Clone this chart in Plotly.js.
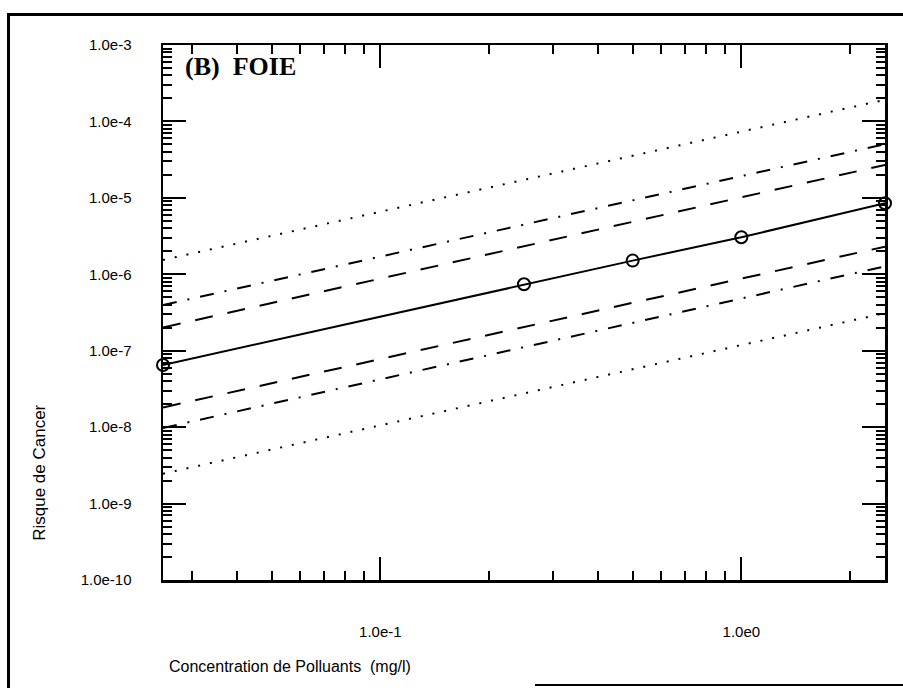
<!DOCTYPE html>
<html>
<head>
<meta charset="utf-8">
<script src="https://cdn.plot.ly/plotly-3.0.1.min.js"></script>
<style>
  html, body { margin: 0; padding: 0; background: #fff; }
  #wrap { position: relative; width: 903px; height: 688px; overflow: hidden; }
  #chart { position: absolute; left: 0; top: 0; width: 903px; height: 688px; }
  .frame { position: absolute; background: #000; }
</style>
</head>
<body>
<div id="wrap">
  <div id="chart"></div>
  <div class="frame" style="left:7px; top:13px; width:896px; height:3px;"></div>
  <div class="frame" style="left:7px; top:13px; width:3px; height:675px;"></div>
  <div class="frame" style="left:535px; top:684px; width:368px; height:2px;"></div>
</div>
<script>
// Concentration (mg/l) at the line ends and at the observed points
const xEnds = [0.025, 2.5];
const xPoints = [0.025, 0.25, 0.5, 1.0, 2.5];

// Central estimate (solid line with open circles)
const riskCentral = [6.5e-8, 7.4e-7, 1.51e-6, 3.05e-6, 8.5e-6];

// Bounds (values at x = 0.025 and x = 2.5)
const upperDotted  = [1.54e-6, 1.92e-4];
const upperDashDot = [3.96e-7, 5.05e-5];
const upperDashed  = [2.01e-7, 2.69e-5];
const lowerDashed  = [1.81e-8, 2.30e-6];
const lowerDashDot = [9.75e-9, 1.27e-6];
const lowerDotted  = [2.46e-9, 3.10e-7];

// Axis ticks
const yTickVals = [1e-10, 1e-9, 1e-8, 1e-7, 1e-6, 1e-5, 1e-4, 1e-3];
const yTickText = ['1.0e-10', '1.0e-9', '1.0e-8', '1.0e-7', '1.0e-6', '1.0e-5', '1.0e-4', '1.0e-3'];
const xTickVals = [0.1, 1];
const xTickText = ['1.0e-1', '1.0e0'];

const DOT = '2px,10px';
const DASH = '18px,15px';
const DASHDOT = '14px,11px,2px,11px';

function bound(y, dash) {
  return {
    x: xEnds, y: y, type: 'scatter', mode: 'lines',
    line: { color: '#000', width: 2, dash: dash },
    hoverinfo: 'skip', cliponaxis: false
  };
}

const traces = [
  bound(upperDotted, DOT),
  bound(upperDashDot, DASHDOT),
  bound(upperDashed, DASH),
  bound(lowerDashed, DASH),
  bound(lowerDashDot, DASHDOT),
  bound(lowerDotted, DOT),
  {
    x: xPoints, y: riskCentral, type: 'scatter', mode: 'lines+markers',
    line: { color: '#000', width: 2 },
    marker: { symbol: 'circle-open', size: 12, color: '#000', line: { width: 2, color: '#000' } },
    cliponaxis: false
  }
];

const font = { family: 'Liberation Sans, Arial, sans-serif', color: '#000' };

const axisCommon = {
  type: 'log',
  showgrid: false,
  zeroline: false,
  showline: true,
  linecolor: '#000',
  linewidth: 2.5,
  mirror: 'ticks',
  ticks: 'inside',
  ticklen: 23,
  tickwidth: 2,
  tickcolor: '#000',
  tickmode: 'array',
  minor: { dtick: 'D1', ticks: 'inside', ticklen: 9, tickwidth: 2, tickcolor: '#000', showgrid: false },
  tickfont: Object.assign({ size: 15 }, font)
};

const layout = {
  width: 903, height: 688,
  margin: { l: 163, r: 18, t: 45, b: 108 },
  paper_bgcolor: '#fff', plot_bgcolor: '#fff',
  showlegend: false,
  xaxis: Object.assign({}, axisCommon, {
    range: [Math.log10(0.025), Math.log10(2.5)],
    tickvals: xTickVals, ticktext: xTickText,
    ticklabelstandoff: 36
  }),
  yaxis: Object.assign({}, axisCommon, {
    range: [-10, -3],
    tickvals: yTickVals, ticktext: yTickText,
    ticklabelstandoff: 26
  }),
  annotations: [
    {
      text: '(B)&nbsp;&nbsp;FOIE', xref: 'paper', yref: 'paper',
      x: 0.028, y: 0.99, xanchor: 'left', yanchor: 'top', showarrow: false,
      font: { family: 'Liberation Serif, Times New Roman, serif', size: 26, color: '#000', weight: 'bold' }
    },
    {
      text: 'Concentration de Polluants&nbsp;&nbsp;(mg/l)', xref: 'paper', yref: 'paper',
      x: 0.006, y: -0.162, xanchor: 'left', yanchor: 'middle', showarrow: false,
      font: Object.assign({ size: 16 }, font)
    },
    {
      text: 'Risque de Cancer', xref: 'paper', yref: 'paper',
      x: -0.172, y: 0.2, xanchor: 'center', yanchor: 'middle', showarrow: false,
      textangle: -90,
      font: Object.assign({ size: 17 }, font)
    }
  ]
};

Plotly.newPlot('chart', traces, layout, { displayModeBar: false, staticPlot: true });
</script>
</body>
</html>
